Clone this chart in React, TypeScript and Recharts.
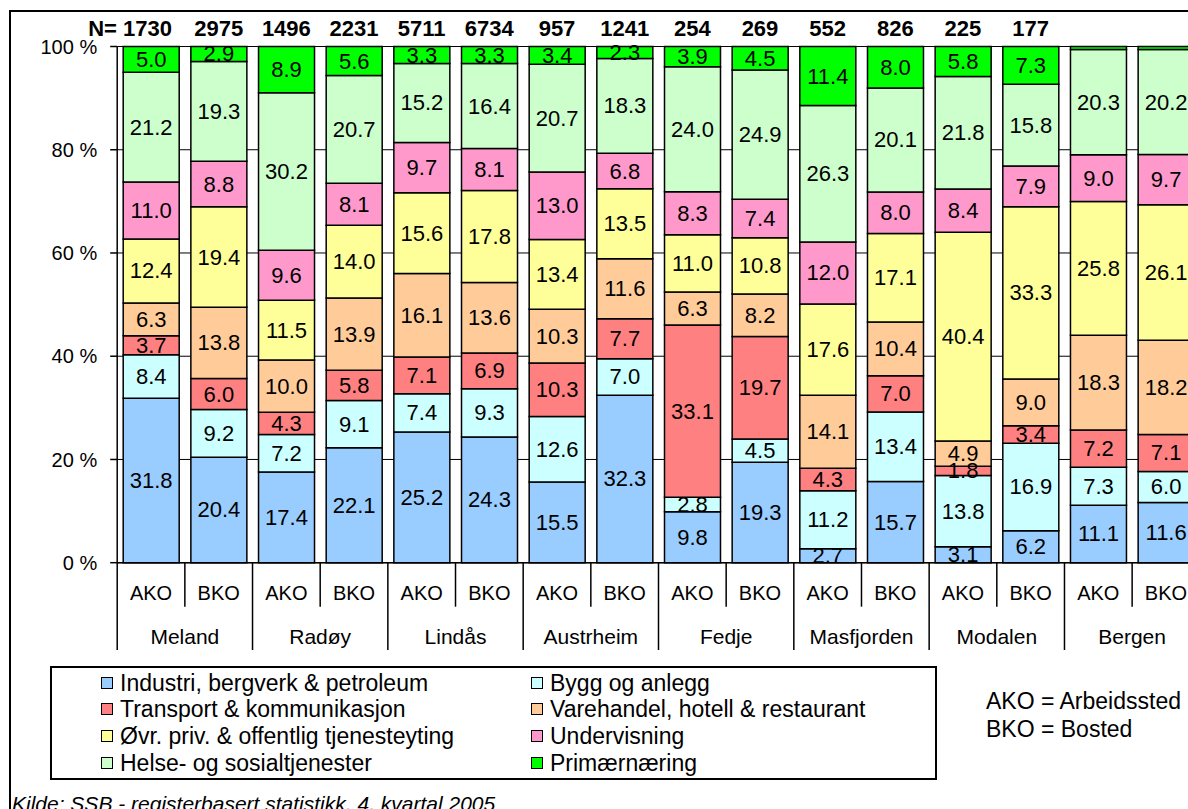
import React from 'react';
import { BarChart, Bar, XAxis, YAxis, CartesianGrid, LabelList, Legend } from 'recharts';

// ---------- data ----------
const places = ['Meland', 'Radøy', 'Lindås', 'Austrheim', 'Fedje', 'Masfjorden', 'Modalen', 'Bergen'];
const kinds = ['AKO', 'BKO'];
const nValues: (number | null)[] = [1730, 2975, 1496, 2231, 5711, 6734, 957, 1241, 254, 269, 552, 826, 225, 177, null, null];
const industri = [31.8, 20.4, 17.4, 22.1, 25.2, 24.3, 15.5, 32.3, 9.8, 19.3, 2.7, 15.7, 3.1, 6.2, 11.1, 11.6];
const bygg = [8.4, 9.2, 7.2, 9.1, 7.4, 9.3, 12.6, 7.0, 2.8, 4.5, 11.2, 13.4, 13.8, 16.9, 7.3, 6.0];
const transport = [3.7, 6.0, 4.3, 5.8, 7.1, 6.9, 10.3, 7.7, 33.1, 19.7, 4.3, 7.0, 1.8, 3.4, 7.2, 7.1];
const varehandel = [6.3, 13.8, 10.0, 13.9, 16.1, 13.6, 10.3, 11.6, 6.3, 8.2, 14.1, 10.4, 4.9, 9.0, 18.3, 18.2];
const ovrig = [12.4, 19.4, 11.5, 14.0, 15.6, 17.8, 13.4, 13.5, 11.0, 10.8, 17.6, 17.1, 40.4, 33.3, 25.8, 26.1];
const undervisning = [11.0, 8.8, 9.6, 8.1, 9.7, 8.1, 13.0, 6.8, 8.3, 7.4, 12.0, 8.0, 8.4, 7.9, 9.0, 9.7];
const helse = [21.2, 19.3, 30.2, 20.7, 15.2, 16.4, 20.7, 18.3, 24.0, 24.9, 26.3, 20.1, 21.8, 15.8, 20.3, 20.2];
const primaer = [5.0, 2.9, 8.9, 5.6, 3.3, 3.3, 3.4, 2.3, 3.9, 4.5, 11.4, 8.0, 5.8, 7.3, 0.6, 0.6];
const yTicks = [0, 0.2, 0.4, 0.6, 0.8, 1];

const series = [
  { key: 'industri', name: 'Industri, bergverk & petroleum', color: '#99CCFF', values: industri },
  { key: 'bygg', name: 'Bygg og anlegg', color: '#CCFFFF', values: bygg },
  { key: 'transport', name: 'Transport & kommunikasjon', color: '#FF8080', values: transport },
  { key: 'varehandel', name: 'Varehandel, hotell & restaurant', color: '#FFCC99', values: varehandel },
  { key: 'ovrig', name: 'Øvr. priv. & offentlig tjenesteyting', color: '#FFFF99', values: ovrig },
  { key: 'undervisning', name: 'Undervisning', color: '#FF99CC', values: undervisning },
  { key: 'helse', name: 'Helse- og sosialtjenester', color: '#CCFFCC', values: helse },
  { key: 'primaer', name: 'Primærnæring', color: '#00FF00', values: primaer },
];

const data = nValues.map((n, i) => {
  const row: Record<string, any> = {
    id: i,
    kind: kinds[i % 2],
    place: places[Math.floor(i / 2)],
    n,
  };
  series.forEach((s) => {
    row[s.key] = s.values[i];
  });
  return row;
});

// ---------- geometry ----------
const CHART_W = 1300;
const CHART_H = 809;
const Y_AXIS_W = 117.2;
const PLOT_W = 1082.6;
const TOP_AXIS_H = 46.5;
const BOTTOM_AXIS_H = 100;
const PLOT_BOTTOM = 562.7;
const CAT_W = PLOT_W / data.length;
const FONT = '"Liberation Sans", Arial, sans-serif';

const BottomTick = (props: any) => {
  const { x, y, payload } = props;
  const i = Number(payload.value);
  const groupStart = i % 2 === 0;
  const left = x - CAT_W / 2;
  return (
    <g>
      <line x1={left} y1={y} x2={left} y2={y + (groupStart ? 87.3 : 44)} stroke="#000" strokeWidth={1.5} />
      <text x={x} y={y + 30} textAnchor="middle" dominantBaseline="central" fontSize={20} fill="#000">
        {data[i].kind}
      </text>
      {groupStart && (
        <text x={x + CAT_W / 2} y={y + 74} textAnchor="middle" dominantBaseline="central" fontSize={21} fill="#000">
          {data[i].place}
        </text>
      )}
    </g>
  );
};

const TopTick = (props: any) => {
  const { x, y, payload } = props;
  const i = Number(payload.value);
  const n = data[i].n;
  if (n == null) return <g />;
  return (
    <text
      x={i === 0 ? x + 21 : x}
      y={y - 18}
      textAnchor={i === 0 ? 'end' : 'middle'}
      dominantBaseline="central"
      fontSize={22}
      fontWeight="bold"
      fill="#000"
    >
      {i === 0 ? `N= ${n}` : String(n)}
    </text>
  );
};

const renderValueLabel = (props: any) => {
  const { x, y, width, height, value } = props;
  if (value == null || Number(value) < 1) return null;
  return (
    <text
      x={Number(x) + Number(width) / 2}
      y={Number(y) + Number(height) / 2}
      textAnchor="middle"
      dominantBaseline="central"
      fontSize={22}
      fill="#000"
    >
      {Number(value).toFixed(1)}
    </text>
  );
};

const renderLegend = () => (
  <div
    style={{
      position: 'relative',
      width: 887,
      height: 114,
      border: '2px solid #000',
      boxSizing: 'border-box',
      background: '#fff',
      fontFamily: FONT,
    }}
  >
    {series.map((s, k) => {
      const col = k % 2;
      const row = Math.floor(k / 2);
      return (
        <div
          key={s.key}
          style={{
            position: 'absolute',
            left: col === 0 ? 49 : 479,
            top: 14.5 + row * 26.7 - 13,
            height: 26,
            display: 'flex',
            alignItems: 'center',
            whiteSpace: 'nowrap',
          }}
        >
          <span
            style={{
              display: 'inline-block',
              width: 12,
              height: 12,
              border: '1.5px solid #000',
              boxSizing: 'border-box',
              background: s.color,
            }}
          />
          <span style={{ marginLeft: 7, fontSize: 23, color: '#000', lineHeight: '26px' }}>{s.name}</span>
        </div>
      );
    })}
  </div>
);

export default function App() {
  return (
    <div
      style={{
        position: 'fixed',
        left: 0,
        top: 0,
        width: 1188,
        height: 809,
        overflow: 'hidden',
        background: '#fff',
        fontFamily: FONT,
      }}
    >
      <div
        style={{
          position: 'absolute',
          left: 9,
          top: 10,
          width: 1400,
          height: 1000,
          border: '2px solid #000',
          boxSizing: 'border-box',
        }}
      />
      <div style={{ position: 'absolute', left: 0, top: 0 }}>
        <BarChart
          width={CHART_W}
          height={CHART_H}
          data={data}
          stackOffset="expand"
          barSize={56}
          margin={{ top: 0, left: 0, right: CHART_W - Y_AXIS_W - PLOT_W, bottom: CHART_H - PLOT_BOTTOM - BOTTOM_AXIS_H }}
        >
          <CartesianGrid vertical={false} stroke="#000" strokeWidth={1} />
          <XAxis
            dataKey="id"
            xAxisId="bottom"
            type="category"
            height={BOTTOM_AXIS_H}
            interval={0}
            tickLine={false}
            tickSize={0}
            tickMargin={0}
            axisLine={{ stroke: '#000', strokeWidth: 1.5 }}
            tick={<BottomTick />}
          />
          <XAxis
            dataKey="id"
            xAxisId="top"
            orientation="top"
            type="category"
            height={TOP_AXIS_H}
            interval={0}
            tickLine={false}
            tickSize={0}
            tickMargin={0}
            axisLine={false}
            tick={<TopTick />}
          />
          <YAxis
            width={Y_AXIS_W}
            domain={[0, 1]}
            ticks={yTicks}
            tickFormatter={(v: number) => `${Math.round(v * 100)} %`}
            axisLine={{ stroke: '#000', strokeWidth: 1.5 }}
            tickLine={{ stroke: '#000', strokeWidth: 1.5 }}
            tickSize={7}
            tickMargin={13}
            tick={{ fill: '#000', fontSize: 20 }}
          />
          <Legend
            layout="vertical"
            align="center"
            verticalAlign="middle"
            wrapperStyle={{ left: 50, top: 666, width: 887, height: 114 }}
            content={renderLegend}
          />
          {series.map((s) => (
            <Bar
              key={s.key}
              dataKey={s.key}
              name={s.name}
              stackId="a"
              xAxisId="bottom"
              fill={s.color}
              stroke="#000"
              strokeWidth={1.5}
              isAnimationActive={false}
            >
              <LabelList dataKey={s.key} content={renderValueLabel} />
            </Bar>
          ))}
        </BarChart>
      </div>
      <div style={{ position: 'absolute', left: 986, top: 689.8, fontSize: 23, lineHeight: '23px', color: '#000', whiteSpace: 'nowrap' }}>
        AKO = Arbeidssted
      </div>
      <div style={{ position: 'absolute', left: 986, top: 717.8, fontSize: 23, lineHeight: '23px', color: '#000', whiteSpace: 'nowrap' }}>
        BKO = Bosted
      </div>
      <div
        style={{
          position: 'absolute',
          left: 12,
          top: 793,
          fontSize: 21,
          lineHeight: '21px',
          fontStyle: 'italic',
          color: '#000',
          whiteSpace: 'nowrap',
        }}
      >
        Kilde: SSB - registerbasert statistikk, 4. kvartal 2005
      </div>
    </div>
  );
}
